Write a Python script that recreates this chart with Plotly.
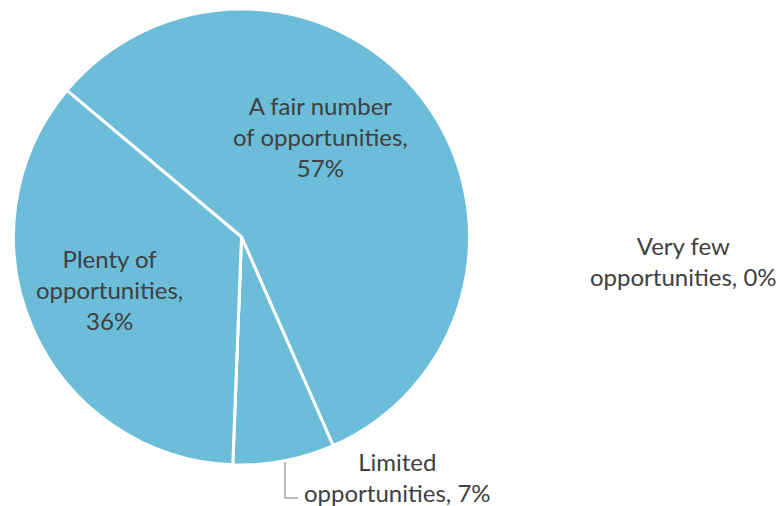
import plotly.graph_objects as go

categories = ["A fair number of opportunities", "Limited opportunities",
              "Very few opportunities", "Plenty of opportunities"]
values = [57.3, 7.2, 0, 35.5]
label_lines = [["A fair number", "of opportunities,"],
               ["Limited", "opportunities,"],
               ["Very few", "opportunities,"],
               ["Plenty of", "opportunities,"]]
pct_on_same_line = [False, True, True, False]

W, H = 780, 506
cx, cy, r = 241.5, 237, 228

fig = go.Figure(go.Pie(
    labels=categories, values=values, sort=False, direction="clockwise",
    rotation=-50, textinfo="none", hoverinfo="label+percent",
    marker=dict(colors=["#6BBDD9"] * 4, line=dict(color="white", width=3)),
    domain=dict(x=[(cx - r) / W, (cx + r) / W], y=[1 - (cy + r) / H, 1 - (cy - r) / H]),
    showlegend=False,
))

# label positions (pixel centres)
pos = [(320, 136), (397, 477), (683, 261), (109, 289)]
total = sum(values)
for lines, v, same, (px, py) in zip(label_lines, values, pct_on_same_line, pos):
    pct = round(100 * v / total)
    if same:
        text = f"{lines[0]}<br>{lines[1]} {pct}%"
    else:
        text = f"{lines[0]}<br>{lines[1]}<br>{pct}%"
    fig.add_annotation(x=px / W, y=1 - py / H, xref="paper", yref="paper",
                       text=text, showarrow=False, align="center",
                       xanchor="center", yanchor="middle",
                       font=dict(family="Lato", size=24, color="#404040"))

# leader line for the small slice
fig.add_shape(type="path", xref="paper", yref="paper",
              path=f"M {285/W} {1-462/H} L {285/W} {1-498/H} L {298/W} {1-498/H}",
              line=dict(color="#A6A6A6", width=1.5))

fig.update_layout(width=W, height=H, margin=dict(l=0, r=0, t=0, b=0),
                  paper_bgcolor="white", plot_bgcolor="white")
fig.write_html("out.html")
